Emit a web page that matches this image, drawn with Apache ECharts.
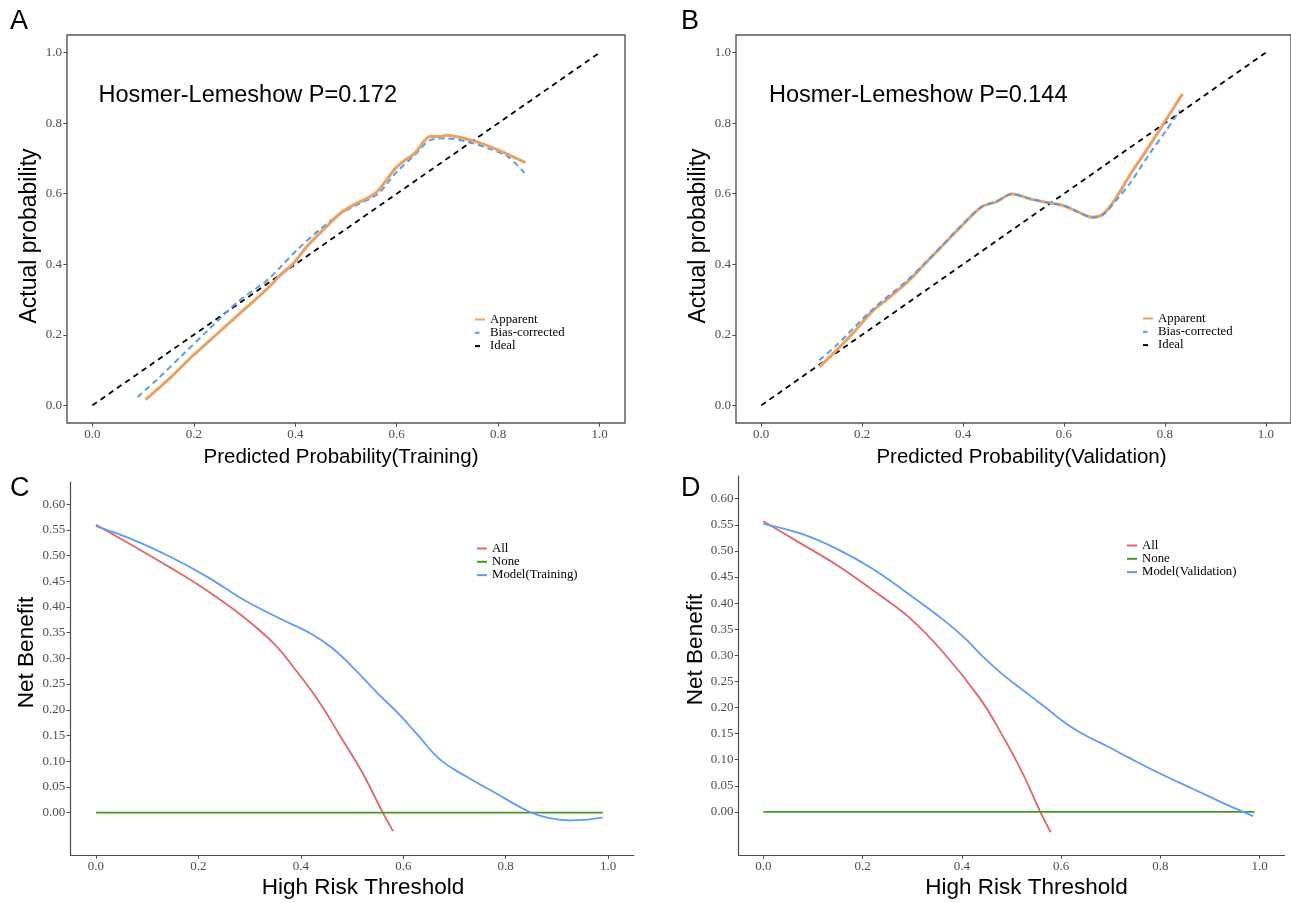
<!DOCTYPE html>
<html>
<head>
<meta charset="utf-8">
<script src="https://cdn.jsdelivr.net/npm/echarts@6/dist/echarts.min.js"></script>
<style>html,body{margin:0;padding:0;background:#fff;}#c{width:1291px;height:903px;}</style>
</head>
<body>
<div id="c"></div>
<script>
// ---------- Tick labels ----------
const calTicks = [0, 0.2, 0.4, 0.6, 0.8, 1.0];
const dcaXTicks = [0, 0.2, 0.4, 0.6, 0.8, 1.0];
const dcaYTicks = [0, 0.05, 0.10, 0.15, 0.20, 0.25, 0.30, 0.35, 0.40, 0.45, 0.50, 0.55, 0.60];

// ---------- Panel A: calibration (training) ----------
const trainApparentX = [0.105,0.155,0.199,0.25,0.301,0.345,0.374,0.396,0.425,0.461,0.49,0.52,0.542,0.564,0.60,0.636,0.666,0.684,0.699,0.724,0.753,0.797,0.854];
const trainApparentY = [0.016,0.080,0.142,0.208,0.274,0.331,0.374,0.402,0.454,0.506,0.546,0.572,0.587,0.610,0.676,0.716,0.762,0.762,0.766,0.760,0.749,0.726,0.688];
const trainBiasX = [0.089,0.126,0.177,0.228,0.286,0.345,0.374,0.403,0.447,0.49,0.527,0.564,0.60,0.636,0.666,0.699,0.739,0.782,0.819,0.852];
const trainBiasY = [0.024,0.071,0.142,0.213,0.293,0.355,0.397,0.44,0.497,0.544,0.572,0.601,0.662,0.71,0.752,0.757,0.747,0.728,0.705,0.659];
const idealX = [0, 1];
const idealY = [0, 1];

// ---------- Panel B: calibration (validation) ----------
const valApparentX = [0.115,0.149,0.184,0.219,0.255,0.29,0.325,0.36,0.395,0.437,0.466,0.497,0.536,0.571,0.6,0.627,0.657,0.677,0.698,0.733,0.768,0.803,0.835];
const valApparentY = [0.109,0.156,0.208,0.265,0.307,0.35,0.402,0.454,0.506,0.563,0.577,0.599,0.584,0.574,0.566,0.549,0.533,0.542,0.577,0.658,0.733,0.811,0.883];
const valBiasX = [0.115,0.149,0.219,0.29,0.325,0.36,0.395,0.437,0.466,0.497,0.536,0.571,0.6,0.627,0.657,0.677,0.698,0.733,0.768,0.803,0.83];
const valBiasY = [0.128,0.170,0.270,0.355,0.404,0.455,0.507,0.563,0.578,0.599,0.585,0.574,0.566,0.549,0.533,0.540,0.572,0.634,0.710,0.780,0.837];

// ---------- Panel C: decision curve (training) ----------
const trainAllX = [0,0.074,0.146,0.218,0.29,0.348,0.391,0.434,0.478,0.521,0.56,0.58];
const trainAllY = [0.560,0.518,0.476,0.431,0.379,0.328,0.276,0.218,0.147,0.076,0.0,-0.036];
const trainNoneX = [0, 0.99];
const trainNoneY = [0, 0];
const trainModelX = [0,0.074,0.146,0.218,0.29,0.36,0.42,0.46,0.50,0.55,0.593,0.629,0.672,0.723,0.78,0.845,0.881,0.924,0.96,0.989];
const trainModelY = [0.557,0.530,0.497,0.458,0.413,0.377,0.348,0.321,0.284,0.232,0.190,0.150,0.103,0.070,0.038,0.002,-0.010,-0.015,-0.0135,-0.010];

// ---------- Panel D: decision curve (validation) ----------
const valAllX = [0,0.076,0.148,0.22,0.292,0.364,0.436,0.479,0.522,0.558,0.579];
const valAllY = [0.557,0.514,0.473,0.425,0.374,0.304,0.218,0.151,0.075,0.0,-0.039];
const valNoneX = [0, 0.99];
const valNoneY = [0, 0];
const valModelX = [0,0.076,0.148,0.22,0.292,0.364,0.407,0.443,0.479,0.522,0.566,0.609,0.652,0.695,0.738,0.796,0.868,0.94,0.987];
const valModelY = [0.552,0.533,0.504,0.466,0.418,0.367,0.332,0.297,0.266,0.234,0.202,0.170,0.145,0.125,0.103,0.075,0.043,0.011,-0.008];

const zip = (xs, ys) => xs.map((x, i) => [x, ys[i]]);

const SERIF = 'Liberation Serif';
const SANS = 'Liberation Sans';
const TICKCOL = '#4d4d4d';

const C_APP = '#E9A262', C_BIAS = '#5B9BEE', C_ALL = '#E36565', C_NONE = '#449A22', C_MODEL = '#5E9BFA';

function axisX(grid, name, ticks, fmt, showLine, gap, fs, pad) {
  return {
    type: 'value', gridIndex: grid, min: -0.05, max: 1.05,
    axisLine: { show: showLine, onZero: false, lineStyle: { color: TICKCOL, width: 1.2 } },
    axisTick: { show: true, length: 3.7, customValues: ticks, lineStyle: { color: TICKCOL } },
    axisLabel: { customValues: ticks, formatter: v => v.toFixed(fmt), fontFamily: SERIF, fontSize: 13, color: TICKCOL, margin: 5 },
    splitLine: { show: false },
    name: name, nameLocation: 'middle', nameGap: gap,
    nameTextStyle: { fontFamily: SANS, fontSize: fs, color: '#000', padding: pad }
  };
}
function axisY(grid, name, ticks, fmt, showLine, min, max, gap, fs, pad) {
  return {
    type: 'value', gridIndex: grid, min: min, max: max,
    axisLine: { show: showLine, onZero: false, lineStyle: { color: TICKCOL, width: 1.2 } },
    axisTick: { show: true, length: 3.7, customValues: ticks, lineStyle: { color: TICKCOL } },
    axisLabel: { customValues: ticks, formatter: v => v.toFixed(fmt), fontFamily: SERIF, fontSize: 13, color: TICKCOL, margin: 5 },
    splitLine: { show: false },
    name: name, nameLocation: 'middle', nameGap: gap,
    nameTextStyle: { fontFamily: SANS, fontSize: fs, color: '#000', padding: pad }
  };
}

function line(name, xi, data, color, width, dash, smooth, z) {
  return {
    type: 'line', name: name, xAxisIndex: xi, yAxisIndex: xi, data: data,
    symbol: 'none', smooth: smooth, silent: true, animation: false, z: z || 2,
    lineStyle: { color: color, width: width, type: dash || 'solid', cap: 'butt' },
    itemStyle: { color: color }
  };
}

const legendBase = {
  orient: 'vertical', itemWidth: 10, itemHeight: 3, itemGap: 0.3, selectedMode: false,
  itemStyle: { opacity: 0 },
  textStyle: { fontFamily: SERIF, fontSize: 12.8, color: '#000', lineHeight: 12 }
};
const calLegendData = [
  { name: 'Apparent' },
  { name: 'Bias-corrected', lineStyle: { type: [4.5, 6] } },
  { name: 'Ideal', lineStyle: { type: [5, 5] } }
];

const option = {
  backgroundColor: '#fff',
  animation: false,
  grid: [
    { left: 67, top: 35, width: 558, height: 388, show: true, borderColor: '#555', borderWidth: 1.4, backgroundColor: 'transparent' },
    { left: 736, top: 35, width: 556.6, height: 388, show: true, borderColor: '#555', borderWidth: 1.4, backgroundColor: 'transparent' },
    { left: 70.3, top: 482, width: 563.5, height: 373 },
    { left: 738.5, top: 476, width: 546, height: 379 }
  ],
  xAxis: [
    axisX(0, 'Predicted Probability(Training)', calTicks, 1, false, 24, 20.5, [0, 10, 0, 0]),
    axisX(1, 'Predicted Probability(Validation)', calTicks, 1, false, 24, 20.5, [0, 0, 0, 16]),
    axisX(2, 'High Risk Threshold', dcaXTicks, 1, true, 21, 22.5, [0, 0, 0, 22]),
    axisX(3, 'High Risk Threshold', dcaXTicks, 1, true, 21, 22.5, [0, 0, 0, 30])
  ],
  yAxis: [
    axisY(0, 'Actual probability', calTicks, 1, false, -0.05, 1.05, 26, 23, [0, 14, 0, 0]),
    axisY(1, 'Actual probability', calTicks, 1, false, -0.05, 1.05, 26, 23, [0, 14, 0, 0]),
    axisY(2, 'Net Benefit', dcaYTicks, 2, true, -0.0825, 0.643, 31, 22.5, [0, 0, 0, 32]),
    axisY(3, 'Net Benefit', dcaYTicks, 2, true, -0.0825, 0.6435, 31, 22.5, [0, 0, 0, 32])
  ],
  legend: [
    Object.assign({}, legendBase, { left: 469, top: 308, data: calLegendData }),
    Object.assign({}, legendBase, { left: 1137, top: 307, data: calLegendData }),
    Object.assign({}, legendBase, { left: 471, top: 537, data: ['All', 'None', 'Model(Training)'] }),
    Object.assign({}, legendBase, { left: 1121, top: 534, data: ['All', 'None', 'Model(Validation)'] })
  ],
  graphic: [
    { type: 'text', left: 10, top: 8, style: { text: 'A', fontFamily: SANS, fontSize: 27, fill: '#000' } },
    { type: 'text', left: 681, top: 8, style: { text: 'B', fontFamily: SANS, fontSize: 27, fill: '#000' } },
    { type: 'text', left: 10, top: 475, style: { text: 'C', fontFamily: SANS, fontSize: 27, fill: '#000' } },
    { type: 'text', left: 681, top: 475, style: { text: 'D', fontFamily: SANS, fontSize: 27, fill: '#000' } },
    { type: 'text', x: 98.5, y: 95.5, style: { text: 'Hosmer-Lemeshow P=0.172', fontFamily: SANS, fontSize: 23.5, fill: '#000', verticalAlign: 'middle' } },
    { type: 'text', x: 769, y: 95.5, style: { text: 'Hosmer-Lemeshow P=0.144', fontFamily: SANS, fontSize: 23.5, fill: '#000', verticalAlign: 'middle' } }
  ],
  series: [
    line('Ideal', 0, zip(idealX, idealY), '#000', 1.8, [5.5, 4.5], false, 1),
    line('Bias-corrected', 0, zip(trainBiasX, trainBiasY), C_BIAS, 2, [6, 4], 0.3, 2),
    line('Apparent', 0, zip(trainApparentX, trainApparentY), C_APP, 3, 'solid', 0.3, 3),

    line('Ideal', 1, zip(idealX, idealY), '#000', 1.8, [5.5, 4.5], false, 1),
    line('Apparent', 1, zip(valApparentX, valApparentY), C_APP, 3, 'solid', 0.3, 2),
    line('Bias-corrected', 1, zip(valBiasX, valBiasY), C_BIAS, 2, [6, 4], 0.3, 3),

    line('All', 2, zip(trainAllX, trainAllY), C_ALL, 1.8, 'solid', 0.4, 2),
    line('None', 2, zip(trainNoneX, trainNoneY), C_NONE, 1.8, 'solid', false, 2),
    line('Model(Training)', 2, zip(trainModelX, trainModelY), C_MODEL, 1.8, 'solid', 0.4, 3),

    line('All', 3, zip(valAllX, valAllY), C_ALL, 1.8, 'solid', 0.4, 2),
    line('None', 3, zip(valNoneX, valNoneY), C_NONE, 1.8, 'solid', false, 2),
    line('Model(Validation)', 3, zip(valModelX, valModelY), C_MODEL, 1.8, 'solid', 0.4, 3)
  ]
};

const chart = echarts.init(document.getElementById('c'), null, { renderer: 'canvas', width: 1291, height: 903 });
chart.setOption(option);
</script>
</body>
</html>
